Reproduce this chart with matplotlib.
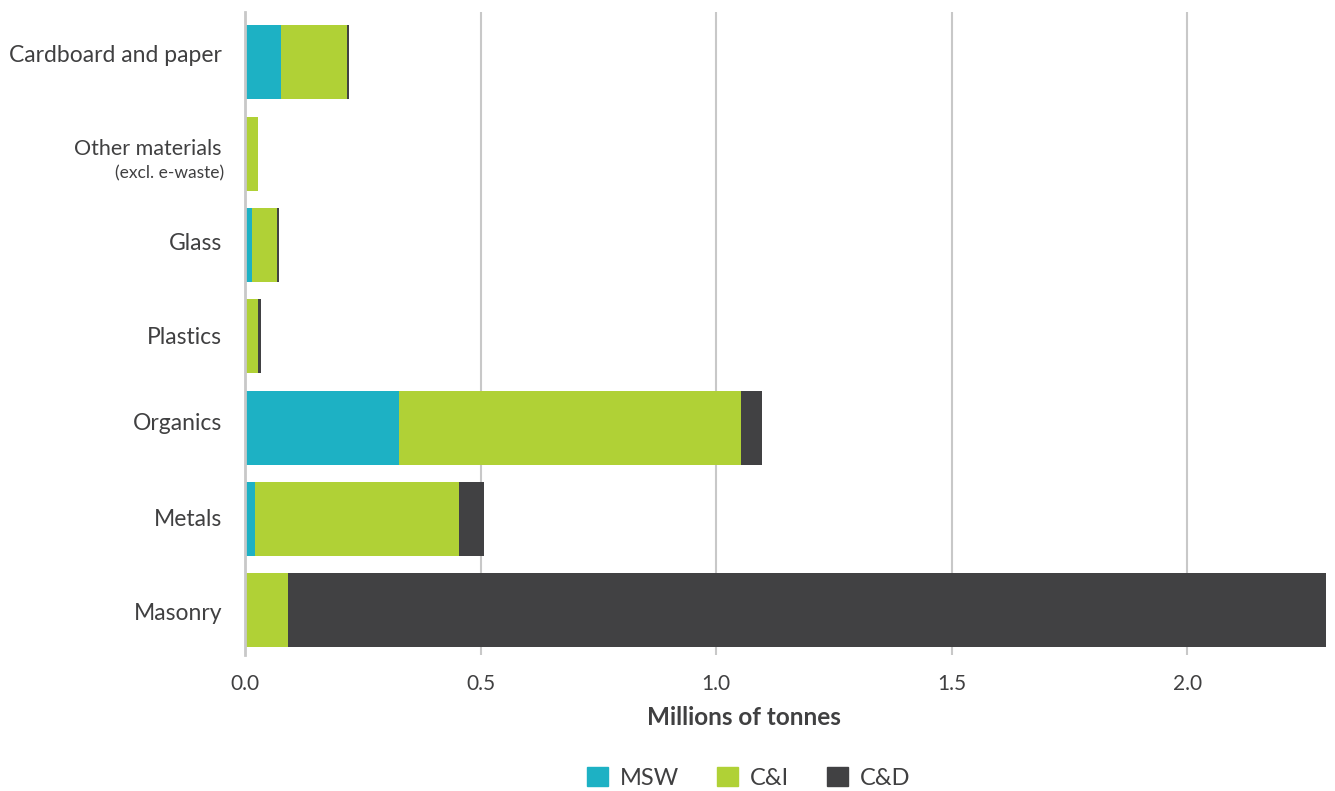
import numpy as np
import matplotlib.pyplot as plt
from matplotlib.patches import Patch
from matplotlib.transforms import blended_transform_factory

plt.rcParams['font.family'] = ['Lato', 'DejaVu Sans']

# data (millions of tonnes)
categories = ["Cardboard and paper", "Other materials", "Glass", "Plastics",
              "Organics", "Metals", "Masonry"]
msw = [0.077, 0.0, 0.014, 0.0, 0.327, 0.021, 0.0]
c_i = [0.140, 0.028, 0.054, 0.028, 0.725, 0.434, 0.091]
c_d = [0.004, 0.0, 0.004, 0.006, 0.045, 0.053, 2.24]
series = ["MSW", "C&I", "C&D"]
xticks = [0.0, 0.5, 1.0, 1.5, 2.0]

colors = ["#1db1c4", "#b0d136", "#414143"]
text_col = "#404041"
grid_col = "#c8c8c8"

fig = plt.figure(figsize=(13.35, 7.91), dpi=100)
ax = fig.add_axes([0.1835, 0.172, 0.8098, 0.8128])

y = np.arange(len(categories))
left = np.zeros(len(categories))
for vals, col in zip([msw, c_i, c_d], colors):
    ax.barh(y, vals, left=left, height=0.81, color=col, zorder=3)
    left = left + np.array(vals)

ax.set_xlim(0, 2.295)
ax.set_ylim(6.49, -0.55)
ax.set_xticks(xticks)
ax.set_xticklabels([f"{t:.1f}" for t in xticks], fontsize=15, color=text_col)
ax.set_yticks(y)
ax.set_yticklabels([])
ax.tick_params(axis="both", length=0)
ax.tick_params(axis="x", pad=14)

# category labels as text; the original sets them slightly off the bar centres
nudge = [-0.075, 0, -0.02, 0.01, -0.04, 0.01, 0.04]
tr = blended_transform_factory(ax.transAxes, ax.transData)
for i, name in enumerate(categories):
    if i == 1:
        ax.text(-0.0213, 0.95, name, transform=tr, ha="right", va="center",
                fontsize=15.5, color=text_col)
        ax.text(-0.0195, 1.22, "(excl. e-waste)", transform=tr, ha="right",
                va="center", fontsize=12.5, color=text_col)
    else:
        ax.text(-0.021, i + nudge[i], name, transform=tr, ha="right", va="center",
                fontsize=16.5, color=text_col)

ax.grid(axis="x", color=grid_col, linewidth=1.5, zorder=0)
for s in ["top", "right", "bottom"]:
    ax.spines[s].set_visible(False)
ax.spines["left"].set_color(grid_col)
ax.spines["left"].set_linewidth(2)
ax.spines["left"].set_zorder(4)

ax.set_xlabel("Millions of tonnes", fontsize=17.5, fontweight="bold", color=text_col)
ax.xaxis.set_label_coords(0.4616, -0.08)

handles = [Patch(color=c, label=s) for c, s in zip(colors, series)]
fig.legend(handles=handles, loc="center", bbox_to_anchor=(0.561, 0.017), ncol=3,
           frameon=False, fontsize=17, handlelength=0.9, handleheight=0.9,
           handletextpad=0.5, columnspacing=1.6, labelcolor=text_col)

fig.savefig("out.png", dpi=100)
